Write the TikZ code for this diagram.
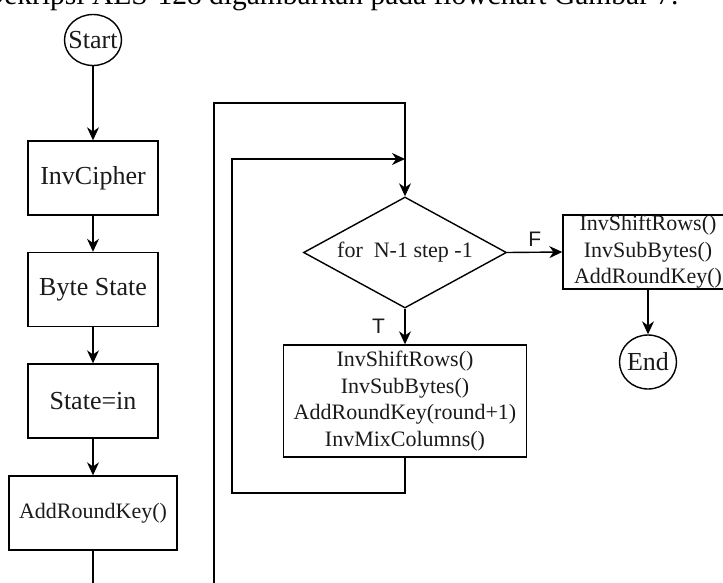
\documentclass[tikz,border=0pt]{standalone}
\usepackage{fontspec}
\setmainfont{Liberation Serif}
\newfontfamily\labelfont{Liberation Sans}
\usetikzlibrary{positioning, shapes.geometric, arrows.meta, calc}
\definecolor{fcline}{HTML}{000000}
\definecolor{fctext}{HTML}{1A1A1A}

\begin{document}
\begin{tikzpicture}[x=1pt, y=-1pt, line width=1.4pt, text=fctext,
    bigtext/.style={font=\fontsize{26}{30}\selectfont},
    smalltext/.style={font=\fontsize{22}{26.5}\selectfont},
    terminal/.style={draw=fcline, ellipse, inner ysep=0pt, inner xsep=-8pt, bigtext},
    process/.style={draw=fcline, rectangle, inner sep=0pt, minimum height=74pt, align=center},
    decision/.style={draw=fcline, diamond, aspect=1.83, inner sep=0pt,
      minimum width=203pt, minimum height=111pt, smalltext},
    flow/.style={draw=fcline, -{Stealth[length=13pt, width=12pt]}},
    branch/.style={font=\labelfont\fontsize{21}{24}\selectfont}]
    \useasboundingbox (0,0) rectangle (723,583);
    \clip (0,0) rectangle (723,583);

    \node[anchor=base west, font=\fontsize{29.5}{34}\selectfont, text=black] (caption) at (-21,5)
      {Dekripsi AES-128 digambarkan pada flowchart Gambar 7.};

    \node[terminal, minimum width=57pt, minimum height=51pt] (start) at (93,40) {Start};
    \node[process, bigtext, minimum width=130pt] (cipher) at (93,178) {InvCipher};
    \node[process, bigtext, minimum width=130pt] (bytestate) at (93,289.5) {Byte State};
    \node[process, bigtext, minimum width=130pt] (statein) at (93,401) {State=in};
    \node[process, smalltext, minimum width=168pt] (addkey) at (93,513) {AddRoundKey()};

    \node[decision] (cond) at (405,252.5) {for\ \ N-1 step -1};
    \node[process, smalltext, minimum width=243pt, minimum height=112pt] (roundbox) at (405,401)
      {InvShiftRows()\\ InvSubBytes()\\ AddRoundKey(round+1)\\ InvMixColumns()};
    \node[process, smalltext, minimum width=170pt, minimum height=74pt] (lastbox) at (648,252)
      {InvShiftRows()\\ InvSubBytes()\\ AddRoundKey()};
    \node[terminal, minimum width=57pt, minimum height=54pt] (end) at (648,362) {End};

    \coordinate (outdown) at (93,600);
    \coordinate (outleft) at (214,600);
    \coordinate (outtop) at (214,103);
    \coordinate (backleft) at (232,493);
    \coordinate (backtop) at (405,159);

    \draw[flow] (start) -- (cipher);
    \draw[flow] (cipher) -- (bytestate);
    \draw[flow] (bytestate) -- (statein);
    \draw[flow] (statein) -- (addkey);
    \draw[flow] (addkey.south) -- (outdown) -- (outleft) -- (outtop) -| (cond.north);
    \draw[flow] (cond.south) -- node[branch, left=16pt] {T} (roundbox.north);
    \draw[flow] (roundbox.south) |- (backleft) |- (backtop);
    \draw[flow] (cond.east) -- node[branch, above=2pt] {F} (lastbox.west);
    \draw[flow] (lastbox.south -| end) -- (end);
  \end{tikzpicture}
\end{document}
